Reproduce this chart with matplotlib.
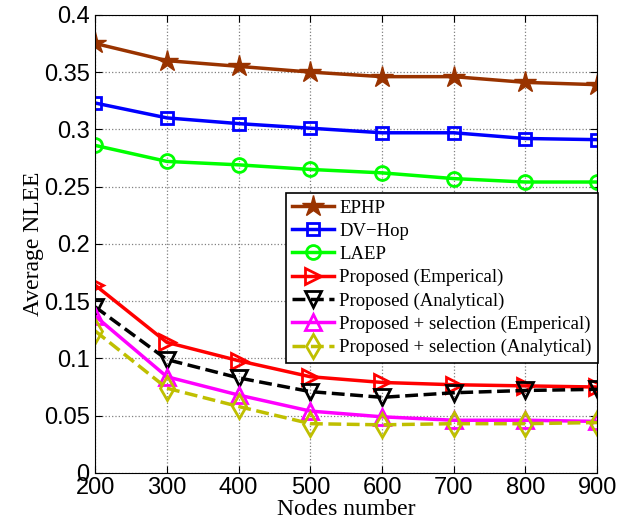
import matplotlib
matplotlib.use('Agg')
import matplotlib.pyplot as plt

nodes = [200, 300, 400, 500, 600, 700, 800, 900]

ephp = [0.375, 0.360, 0.355, 0.350, 0.346, 0.346, 0.341, 0.339]
dvhop = [0.323, 0.310, 0.305, 0.301, 0.297, 0.297, 0.292, 0.291]
laep = [0.286, 0.272, 0.269, 0.265, 0.262, 0.257, 0.254, 0.254]
prop_emp = [0.164, 0.114, 0.098, 0.084, 0.079, 0.077, 0.076, 0.075]
prop_ana = [0.145, 0.099, 0.083, 0.071, 0.066, 0.070, 0.072, 0.073]
sel_emp = [0.137, 0.084, 0.068, 0.054, 0.049, 0.046, 0.046, 0.045]
sel_ana = [0.124, 0.074, 0.058, 0.043, 0.042, 0.043, 0.043, 0.044]

fig = plt.figure(figsize=(6.34, 5.29), dpi=100)
ax = fig.add_axes([0.150, 0.106, 0.792, 0.866])

lw = 2.5
ax.plot(nodes, ephp, color='#993300', lw=lw, marker='*', ms=16, label='EPHP')
ax.plot(nodes, dvhop, color='blue', lw=lw, marker='s', ms=9, mfc='none', mew=2, label='DV\u2212Hop')
ax.plot(nodes, laep, color='#00ff00', lw=lw, marker='o', ms=10, mfc='none', mew=2, label='LAEP')
ax.plot(nodes, prop_emp, color='red', lw=lw, marker='>', ms=12, mfc='none', mew=2, label='Proposed (Emperical)')
ax.plot(nodes, prop_ana, color='black', lw=lw, ls='--', marker='v', ms=12, mfc='none', mew=2, label='Proposed (Analytical)')
ax.plot(nodes, sel_emp, color='magenta', lw=lw, marker='^', ms=12, mfc='none', mew=2, label='Proposed + selection (Emperical)')
ax.plot(nodes, sel_ana, color='#bfbf00', lw=lw, ls='--', marker='d', ms=12, mfc='none', mew=2, label='Proposed + selection (Analytical)')

ax.set_xlim(200, 900)
ax.set_ylim(0, 0.4)
ax.set_xticks(nodes)
ax.set_yticks([0, 0.05, 0.1, 0.15, 0.2, 0.25, 0.3, 0.35, 0.4])
ax.set_yticklabels(['0', '0.05', '0.1', '0.15', '0.2', '0.25', '0.3', '0.35', '0.4'])
ax.tick_params(labelsize=17, direction='in', length=5, top=True, right=True)
ax.tick_params(axis='x', pad=3)
ax.tick_params(axis='y', pad=4)
for lab in ax.get_xticklabels() + ax.get_yticklabels():
    lab.set_family('Liberation Sans')
ax.grid(True, ls=':', color='gray', lw=0.9)

ax.set_xlabel('Nodes number', family='Liberation Serif', fontsize=17, labelpad=0)
ax.set_ylabel('Average NLEE', family='Liberation Serif', fontsize=17, labelpad=0)

leg = ax.legend(loc='upper left', bbox_to_anchor=(0.38, 0.611), borderaxespad=0,
                prop={'family': 'Liberation Serif', 'size': 13.5}, fancybox=False,
                framealpha=1, edgecolor='black', handlelength=2.2, labelspacing=0.32,
                handletextpad=0.3, borderpad=0.35)
leg.get_frame().set_linewidth(1.2)

plt.savefig('out.png', dpi=100)
